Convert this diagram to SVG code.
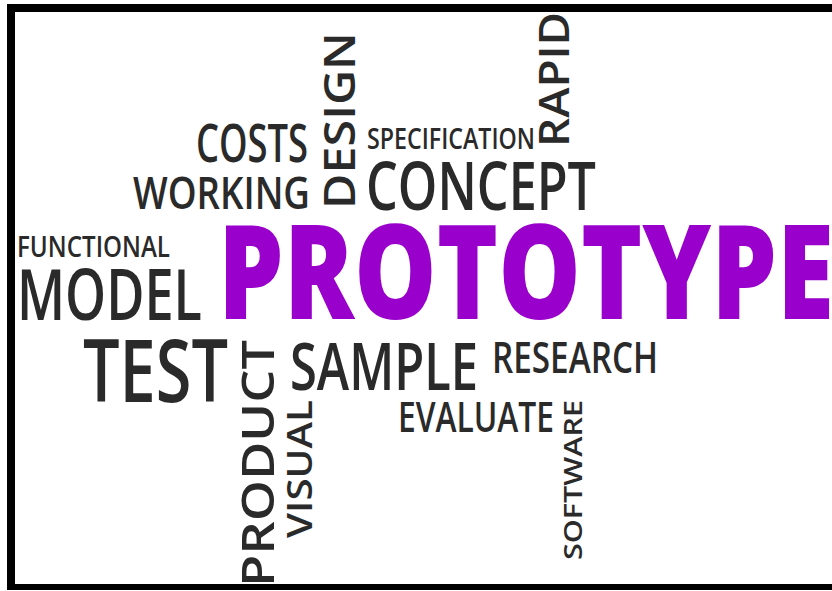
<svg xmlns="http://www.w3.org/2000/svg" width="832" height="591" viewBox="0 0 832 591">
<style>
.w{font-family:"Open Sans","Liberation Sans",sans-serif;font-weight:600;fill:#2a2a2a}
.p{font-family:"Open Sans","Liberation Sans",sans-serif;font-weight:800;fill:#9900cc}
</style>
<rect x="0" y="0" width="832" height="591" fill="#ffffff"/>
<g id="costs"><text class="w" x="196" y="162" font-size="52" textLength="112" lengthAdjust="spacingAndGlyphs">COSTS</text></g>
<g id="working"><text class="w" x="133" y="209" font-size="46" textLength="177" lengthAdjust="spacingAndGlyphs">WORKING</text></g>
<g id="design"><text class="w" transform="translate(355,209) rotate(-90)" font-size="43" textLength="177" lengthAdjust="spacingAndGlyphs">DESIGN</text></g>
<g id="specification"><text class="w" x="367" y="149" font-size="29" textLength="168" lengthAdjust="spacingAndGlyphs">SPECIFICATION</text></g>
<g id="rapid"><text class="w" transform="translate(569,147) rotate(-90)" font-size="42" textLength="135" lengthAdjust="spacingAndGlyphs">RAPID</text></g>
<g id="concept"><text class="w" x="366" y="210" font-size="67" textLength="230" lengthAdjust="spacingAndGlyphs">CONCEPT</text></g>
<g id="functional"><text class="w" x="17" y="257" font-size="29" textLength="153" lengthAdjust="spacingAndGlyphs">FUNCTIONAL</text></g>
<g id="model"><text class="w" x="17" y="320" font-size="71" textLength="185" lengthAdjust="spacingAndGlyphs">MODEL</text></g>
<g id="prototype"><text class="p" x="218" y="319" font-size="132" textLength="616" lengthAdjust="spacingAndGlyphs">PROTOTYPE</text></g>
<g id="test"><text class="w" x="83" y="402" font-size="87" textLength="145" lengthAdjust="spacingAndGlyphs">TEST</text></g>
<g id="product"><text class="w" transform="translate(274,587) rotate(-90)" font-size="45" textLength="247" lengthAdjust="spacingAndGlyphs">PRODUCT</text></g>
<g id="visual"><text class="w" transform="translate(312,538) rotate(-90)" font-size="34" textLength="138" lengthAdjust="spacingAndGlyphs">VISUAL</text></g>
<g id="sample"><text class="w" x="290" y="390" font-size="66" textLength="188" lengthAdjust="spacingAndGlyphs">SAMPLE</text></g>
<g id="research"><text class="w" x="492" y="373" font-size="43" textLength="166" lengthAdjust="spacingAndGlyphs">RESEARCH</text></g>
<g id="evaluate"><text class="w" x="398" y="432" font-size="42" textLength="156" lengthAdjust="spacingAndGlyphs">EVALUATE</text></g>
<g id="software"><text class="w" transform="translate(582,560) rotate(-90)" font-size="25" textLength="160" lengthAdjust="spacingAndGlyphs">SOFTWARE</text></g>
<g id="frame" fill="#000000">
<rect x="7" y="4" width="825" height="8"/>
<rect x="7" y="4" width="8" height="586"/>
<rect x="7" y="584" width="825" height="6"/>
</g>
</svg>
